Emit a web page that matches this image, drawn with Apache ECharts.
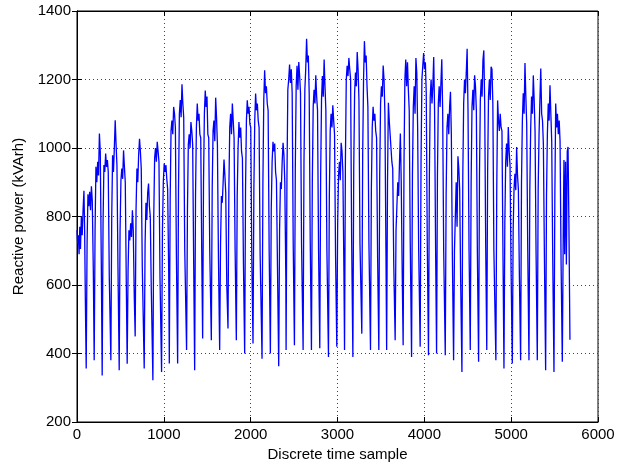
<!DOCTYPE html>
<html>
<head>
<meta charset="utf-8">
<script src="https://cdn.jsdelivr.net/npm/echarts@6/dist/echarts.min.js"></script>
<style>
  html, body { margin: 0; padding: 0; background: #fff; }
  #chart { width: 641px; height: 467px; }
</style>
</head>
<body>
<div id="chart"></div>
<script>
// x ticks / y ticks
const xTicks = [0, 1000, 2000, 3000, 4000, 5000, 6000]
const yTicks = [200, 400, 600, 800, 1000, 1200, 1400]

// first partial day (samples 0..96)
const headSamples = [0, 8, 16, 24, 32, 40, 50, 60, 70, 80, 88, 96]
const headValues = [760, 720, 745, 690, 770, 705, 800, 745, 820, 875, 760, 560]

// samples after the start of each day where a value was read
const hourOffsets = [0, 10, 20, 30, 40, 50, 60, 70, 82]

// start sample of each day (the night minimum)
const dayStart = [
  106, 198, 290, 390, 486, 578, 670, 774, 874, 974,
  1063, 1159, 1262, 1355, 1447, 1547, 1643, 1739, 1835, 1931,
  2027, 2131, 2227, 2323, 2408, 2504, 2604, 2700, 2796, 2896,
  2992, 3081, 3177, 3280, 3380, 3476, 3566, 3664, 3756, 3853,
  3952, 4048, 4141, 4241, 4337, 4433, 4529, 4625, 4719, 4824,
  4917, 5013, 5109, 5205, 5301, 5397, 5493
]

// values read at hourOffsets for each day (kVArh)
const dayValues = [
  [356, 720, 865, 830, 872, 818, 888, 846, 640],
  [380, 760, 945, 900, 960, 920, 1042, 990, 660],
  [336, 780, 950, 930, 984, 945, 965, 930, 620],
  [380, 800, 979, 930, 1000, 1081, 1010, 950, 650],
  [351, 760, 906, 940, 910, 993, 945, 900, 600],
  [370, 640, 760, 730, 780, 740, 818, 760, 560],
  [450, 820, 940, 900, 980, 1027, 990, 940, 650],
  [356, 720, 840, 790, 870, 896, 830, 800, 580],
  [322, 800, 970, 1000, 960, 1018, 990, 960, 620],
  [346, 760, 900, 955, 930, 950, 910, 880, 640],
  [371, 850, 1050, 1080, 1040, 1120, 1100, 1060, 680],
  [371, 880, 1100, 1140, 1090, 1186, 1130, 1090, 700],
  [410, 820, 1010, 1040, 1000, 1076, 1050, 1010, 660],
  [351, 860, 1060, 1130, 1080, 1100, 1040, 1030, 680],
  [444, 900, 1100, 1168, 1120, 1150, 1040, 1030, 700],
  [439, 880, 1050, 1080, 1020, 1147, 1090, 1010, 680],
  [410, 720, 860, 840, 900, 966, 920, 870, 600],
  [473, 880, 1060, 1100, 1040, 1130, 1080, 1030, 700],
  [439, 860, 1000, 1076, 1030, 1060, 990, 970, 660],
  [400, 880, 1080, 1139, 1100, 1120, 1070, 1060, 680],
  [429, 880, 1080, 1159, 1110, 1130, 1080, 1060, 690],
  [385, 900, 1140, 1227, 1160, 1180, 1130, 1110, 700],
  [400, 820, 960, 1018, 990, 1013, 930, 906, 650],
  [363, 760, 900, 880, 960, 1015, 980, 900, 620],
  [410, 920, 1170, 1200, 1244, 1190, 1230, 1160, 720],
  [424, 940, 1180, 1240, 1170, 1251, 1210, 1160, 720],
  [410, 960, 1170, 1230, 1319, 1250, 1270, 1160, 730],
  [410, 900, 1120, 1170, 1130, 1212, 1150, 1110, 700],
  [415, 920, 1140, 1210, 1150, 1258, 1180, 1110, 700],
  [390, 860, 1050, 1100, 1060, 1125, 1080, 1040, 680],
  [420, 780, 920, 960, 906, 1015, 990, 930, 640],
  [410, 960, 1200, 1240, 1210, 1263, 1230, 1200, 730],
  [390, 940, 1160, 1220, 1180, 1280, 1230, 1140, 720],
  [458, 980, 1200, 1312, 1250, 1270, 1180, 1120, 720],
  [410, 880, 1060, 1120, 1080, 1100, 1050, 1030, 680],
  [410, 920, 1130, 1180, 1150, 1241, 1200, 1100, 700],
  [410, 900, 1132, 1080, 1040, 1000, 960, 940, 660],
  [439, 760, 830, 900, 860, 960, 1042, 900, 620],
  [424, 960, 1200, 1258, 1180, 1250, 1170, 1110, 720],
  [390, 920, 1120, 1180, 1100, 1263, 1220, 1060, 700],
  [420, 960, 1200, 1240, 1277, 1230, 1250, 1160, 720],
  [395, 920, 1150, 1200, 1130, 1180, 1266, 1110, 700],
  [400, 920, 1130, 1180, 1120, 1190, 1259, 1110, 700],
  [395, 860, 1060, 1100, 1040, 1120, 1164, 1040, 680],
  [380, 700, 800, 900, 770, 976, 940, 880, 600],
  [346, 920, 1130, 1200, 1160, 1220, 1290, 1110, 700],
  [410, 900, 1120, 1170, 1110, 1212, 1180, 1110, 690],
  [376, 920, 1140, 1200, 1150, 1256, 1285, 1130, 710],
  [410, 930, 1150, 1200, 1140, 1237, 1230, 1130, 700],
  [380, 880, 1139, 1080, 1050, 1100, 1060, 1050, 680],
  [356, 780, 960, 1013, 945, 1061, 990, 950, 640],
  [371, 760, 880, 925, 877, 1003, 920, 880, 620],
  [380, 900, 1080, 1160, 1100, 1248, 1150, 1070, 700],
  [380, 880, 1060, 1150, 1100, 1212, 1140, 1050, 690],
  [380, 880, 1040, 1140, 1232, 1100, 1080, 1010, 680],
  [351, 860, 1040, 1130, 1080, 1183, 1100, 1020, 670],
  [346, 860, 1130, 1060, 1100, 1040, 1080, 1020, 660]
]

// last partial day
const tailSamples = [5589, 5600, 5608, 5616, 5626, 5636, 5646, 5655, 5665, 5677]
const tailValues = [376, 760, 965, 690, 960, 660, 990, 1003, 780, 440]

const points = []
headSamples.forEach((s, i) => points.push([s, headValues[i]]))
dayStart.forEach((start, d) => {
  hourOffsets.forEach((off, i) => points.push([start + off, dayValues[d][i]]))
})
tailSamples.forEach((s, i) => points.push([s, tailValues[i]]))

const font = 'Liberation Sans, Arial, Helvetica, sans-serif'
const gridLine = { show: true, lineStyle: { color: '#444', type: [1, 3], width: 1 } }
const tick = { show: true, inside: true, length: 5, lineStyle: { color: '#000' } }
const plain = v => String(v)

const myChart = echarts.init(document.getElementById('chart'))
myChart.setOption({
  animation: false,
  textStyle: { fontFamily: font, color: '#000' },
  grid: { left: 77, right: 43, top: 11, bottom: 45, show: true, borderColor: '#000', borderWidth: 1 },
  xAxis: [
    {
      type: 'value', min: xTicks[0], max: xTicks[xTicks.length - 1], interval: 1000,
      name: 'Discrete time sample', nameLocation: 'middle', nameGap: 24,
      nameTextStyle: { fontSize: 15, color: '#000', fontFamily: font },
      axisLine: { show: true, lineStyle: { color: '#000' } },
      axisTick: tick,
      axisLabel: { fontSize: 15, color: '#000', margin: 5, fontFamily: font, formatter: plain },
      splitLine: gridLine
    },
    {
      type: 'value', position: 'top', min: 0, max: 6000, interval: 1000,
      axisLine: { show: true, lineStyle: { color: '#000' } },
      axisTick: tick, axisLabel: { show: false }, splitLine: { show: false }
    }
  ],
  yAxis: [
    {
      type: 'value', min: yTicks[0], max: yTicks[yTicks.length - 1], interval: 200,
      name: 'Reactive power (kVArh)', nameLocation: 'middle', nameGap: 48,
      nameTextStyle: { fontSize: 15, color: '#000', fontFamily: font },
      axisLine: { show: true, lineStyle: { color: '#000' } },
      axisTick: tick,
      axisLabel: { fontSize: 15, color: '#000', margin: 6, fontFamily: font, formatter: plain },
      splitLine: gridLine
    },
    {
      type: 'value', position: 'right', min: 200, max: 1400, interval: 200,
      axisLine: { show: true, lineStyle: { color: '#000' } },
      axisTick: tick, axisLabel: { show: false }, splitLine: { show: false }
    }
  ],
  series: [{
    type: 'line',
    data: points,
    showSymbol: false,
    sampling: false,
    lineStyle: { color: '#0000ff', width: 1.3 },
    itemStyle: { color: '#0000ff' }
  }]
})
</script>
</body>
</html>
